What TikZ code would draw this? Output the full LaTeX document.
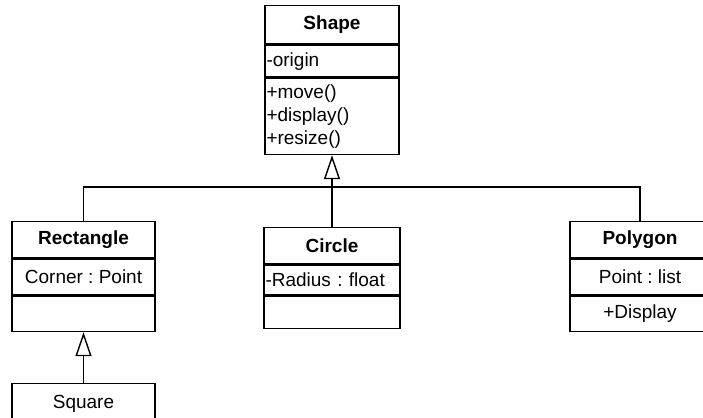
\documentclass[tikz,border=0pt]{standalone}
\usepackage{fontspec}
\setmainfont{Liberation Sans}
\usetikzlibrary{arrows.meta}
\frenchspacing

\begin{document}
\begin{tikzpicture}[x=1pt,y=1pt,yscale=-1,
  cls/.style={draw, line width=1.4pt, inner sep=0pt, align=center, font=\fontsize{19}{23}\selectfont},
  clshead/.style={cls, font=\fontsize{19}{23}\selectfont\bfseries},
  clsleft/.style={cls, align=left, inner xsep=1.5pt},
  inherit/.style={line width=1.4pt, -{Triangle[open, length=24pt, width=16pt, line width=1.4pt]}}]
%set diagram frame: 703 x 417
\useasboundingbox (0,0) rectangle (703,417);
\clip (0,0) rectangle (703,417);

%Class: Shape
\node [clshead, minimum width=134pt, minimum height=38pt, anchor=north] (shapehead) at (332,5) {Shape};
\node [clsleft, text width=131pt, minimum height=32pt, anchor=north] (shapeattr) at (shapehead.south) {-origin};
\node [clsleft, text width=131pt, minimum height=76pt, anchor=north] (shapeops) at (shapeattr.south) {+move()\\+display()\\+resize()};

%Class: Rectangle
\node [clshead, minimum width=143pt, minimum height=36pt, anchor=north] (recthead) at (83.5,221) {Rectangle};
\node [cls, minimum width=143pt, minimum height=36pt, anchor=north] (rectattr) at (recthead.south) {Corner : Point};
\node [cls, minimum width=143pt, minimum height=35pt, anchor=north] (rectops) at (rectattr.south) {};

%Class: Circle
\node [clshead, minimum width=136pt, minimum height=36pt, anchor=north] (circlehead) at (332,227) {Circle};
\node [clsleft, text width=133pt, minimum height=30pt, anchor=north] (circleattr) at (circlehead.south) {-Radius : float};
\node [cls, minimum width=136pt, minimum height=32pt, anchor=north] (circleops) at (circleattr.south) {};

%Class: Polygon
\node [clshead, minimum width=140pt, minimum height=36pt, anchor=north] (polyhead) at (640,221) {Polygon};
\node [cls, minimum width=140pt, minimum height=36pt, anchor=north] (polyattr) at (polyhead.south) {Point : list};
\node [cls, minimum width=140pt, minimum height=35pt, anchor=north] (polyops) at (polyattr.south) {+Display};

%Class: Square
\node [cls, minimum width=143pt, minimum height=40pt, anchor=north] (squarehead) at (83.5,383) {Square};

%Generalisation lines
\coordinate (bus) at (332,187);
\draw [line width=1.4pt] (recthead.north) |- (bus) -| (polyhead.north);
\draw [inherit] (circlehead.north) -- (shapeops.south);
\draw [inherit] (squarehead.north) -- (rectops.south);

\end{tikzpicture}
\end{document}
